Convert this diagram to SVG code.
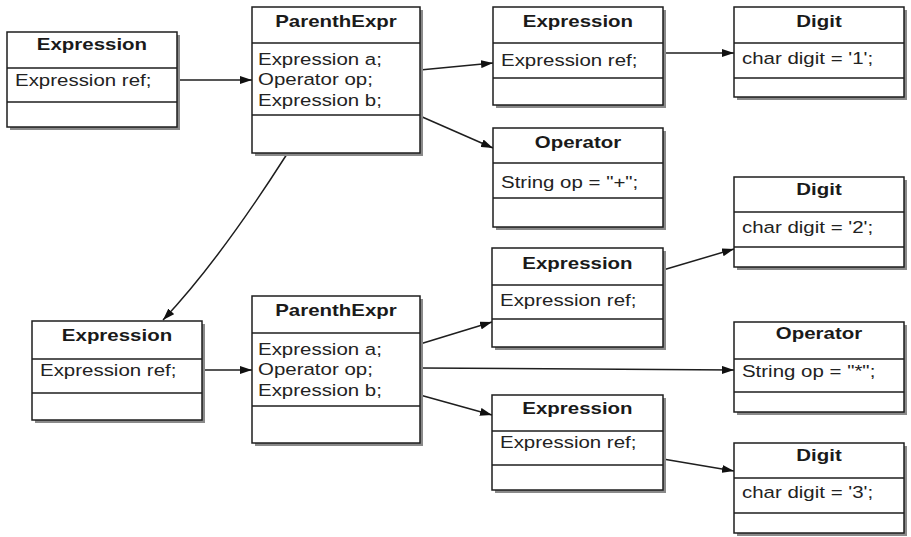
<svg xmlns="http://www.w3.org/2000/svg" width="911" height="537" viewBox="0 0 911 537">
  <style>
    .bg { fill: #ffffff; }
    .shadow { fill: #8a8a8a; }
    .box { fill: #ffffff; stroke: #1e1e1e; stroke-width: 1.5; }
    .div { stroke: #1e1e1e; stroke-width: 1.5; }
    .title { font-family: "Liberation Sans", Arial, Helvetica, sans-serif; font-weight: bold; font-size: 16.5px; fill: #1a1a1a; text-anchor: middle; transform-box: fill-box; transform-origin: 50% 50%; transform: scaleX(1.24); }
    .attr { font-family: "Liberation Sans", Arial, Helvetica, sans-serif; font-size: 16.5px; fill: #222222; transform-box: fill-box; transform-origin: 0 50%; transform: scaleX(1.24); }
    .edge { fill: none; stroke: #1e1e1e; stroke-width: 1.5; marker-end: url(#arrow); }
  </style>
  <defs>
    <marker id="arrow" markerUnits="userSpaceOnUse" markerWidth="12" markerHeight="8" refX="12" refY="4" orient="auto">
      <path d="M0,0 L12,4 L0,8 z" fill="#111111"/>
    </marker>
  </defs>

  <rect class="bg" x="0" y="0" width="911" height="537"/>

  <!-- connectors -->
  <g id="connectors">
    <path class="edge" d="M177,80 L252,80"/>
    <path class="edge" d="M420,70 L493,63"/>
    <path class="edge" d="M420,116 L493,148"/>
    <path class="edge" d="M663,53 L734,53"/>
    <path class="edge" d="M287,154 Q218,262 163,320"/>
    <path class="edge" d="M202,370 L252,370"/>
    <path class="edge" d="M420,344 L492,322"/>
    <path class="edge" d="M420,368 L734,370"/>
    <path class="edge" d="M420,395 L492,415"/>
    <path class="edge" d="M663,270 L734,249"/>
    <path class="edge" d="M663,459 L734,471"/>
  </g>

  <!-- top-left Expression -->
  <g id="expr-root">
    <rect class="shadow" x="10" y="35" width="170" height="95"/>
    <rect class="box" x="7" y="32" width="170" height="95"/>
    <line class="div" x1="7" y1="68" x2="177" y2="68"/>
    <line class="div" x1="7" y1="102" x2="177" y2="102"/>
    <text class="title" x="92" y="50">Expression</text>
    <text class="attr" x="15" y="86">Expression ref;</text>
  </g>

  <!-- outer ParenthExpr -->
  <g id="parenth-outer">
    <rect class="shadow" x="255" y="10" width="168" height="146"/>
    <rect class="box" x="252" y="7" width="168" height="146"/>
    <line class="div" x1="252" y1="43" x2="420" y2="43"/>
    <line class="div" x1="252" y1="115" x2="420" y2="115"/>
    <text class="title" x="336" y="27">ParenthExpr</text>
    <text class="attr" x="258" y="65">Expression a;</text>
    <text class="attr" x="258" y="85.5">Operator op;</text>
    <text class="attr" x="258" y="106">Expression b;</text>
  </g>

  <!-- Expression holding digit 1 -->
  <g id="expr-one">
    <rect class="shadow" x="496" y="10" width="170" height="98"/>
    <rect class="box" x="493" y="7" width="170" height="98"/>
    <line class="div" x1="493" y1="43" x2="663" y2="43"/>
    <line class="div" x1="493" y1="78" x2="663" y2="78"/>
    <text class="title" x="578" y="27">Expression</text>
    <text class="attr" x="501" y="66">Expression ref;</text>
  </g>

  <!-- Operator + -->
  <g id="op-plus">
    <rect class="shadow" x="496" y="131" width="170" height="99"/>
    <rect class="box" x="493" y="128" width="170" height="99"/>
    <line class="div" x1="493" y1="163" x2="663" y2="163"/>
    <line class="div" x1="493" y1="198" x2="663" y2="198"/>
    <text class="title" x="578" y="148">Operator</text>
    <text class="attr" x="501" y="188">String op = "+";</text>
  </g>

  <!-- Digit 1 -->
  <g id="digit-1">
    <rect class="shadow" x="737" y="10" width="170" height="90"/>
    <rect class="box" x="734" y="7" width="170" height="90"/>
    <line class="div" x1="734" y1="43" x2="904" y2="43"/>
    <line class="div" x1="734" y1="78" x2="904" y2="78"/>
    <text class="title" x="819" y="27">Digit</text>
    <text class="attr" x="742" y="64">char digit = '1';</text>
  </g>

  <!-- Digit 2 -->
  <g id="digit-2">
    <rect class="shadow" x="737" y="180" width="170" height="90"/>
    <rect class="box" x="734" y="177" width="170" height="90"/>
    <line class="div" x1="734" y1="212" x2="904" y2="212"/>
    <line class="div" x1="734" y1="247" x2="904" y2="247"/>
    <text class="title" x="819" y="195">Digit</text>
    <text class="attr" x="742" y="233">char digit = '2';</text>
  </g>

  <!-- lower-left Expression -->
  <g id="expr-inner">
    <rect class="shadow" x="35" y="324" width="170" height="99"/>
    <rect class="box" x="32" y="321" width="170" height="99"/>
    <line class="div" x1="32" y1="359" x2="202" y2="359"/>
    <line class="div" x1="32" y1="393" x2="202" y2="393"/>
    <text class="title" x="117" y="341">Expression</text>
    <text class="attr" x="40" y="376">Expression ref;</text>
  </g>

  <!-- inner ParenthExpr -->
  <g id="parenth-inner">
    <rect class="shadow" x="255" y="299" width="168" height="147"/>
    <rect class="box" x="252" y="296" width="168" height="147"/>
    <line class="div" x1="252" y1="333" x2="420" y2="333"/>
    <line class="div" x1="252" y1="406" x2="420" y2="406"/>
    <text class="title" x="336" y="316">ParenthExpr</text>
    <text class="attr" x="258" y="355">Expression a;</text>
    <text class="attr" x="258" y="375.5">Operator op;</text>
    <text class="attr" x="258" y="396">Expression b;</text>
  </g>

  <!-- Expression holding digit 2 -->
  <g id="expr-two">
    <rect class="shadow" x="495" y="251" width="171" height="99"/>
    <rect class="box" x="492" y="248" width="171" height="99"/>
    <line class="div" x1="492" y1="285" x2="663" y2="285"/>
    <line class="div" x1="492" y1="319" x2="663" y2="319"/>
    <text class="title" x="577.5" y="269">Expression</text>
    <text class="attr" x="500" y="306">Expression ref;</text>
  </g>

  <!-- Operator * -->
  <g id="op-times">
    <rect class="shadow" x="737" y="325" width="170" height="90"/>
    <rect class="box" x="734" y="322" width="170" height="90"/>
    <line class="div" x1="734" y1="359" x2="904" y2="359"/>
    <line class="div" x1="734" y1="392" x2="904" y2="392"/>
    <text class="title" x="819" y="339">Operator</text>
    <text class="attr" x="742" y="377">String op = "*";</text>
  </g>

  <!-- Expression holding digit 3 -->
  <g id="expr-three">
    <rect class="shadow" x="495" y="398" width="171" height="95"/>
    <rect class="box" x="492" y="395" width="171" height="95"/>
    <line class="div" x1="492" y1="431" x2="663" y2="431"/>
    <line class="div" x1="492" y1="465" x2="663" y2="465"/>
    <text class="title" x="577.5" y="414">Expression</text>
    <text class="attr" x="500" y="448">Expression ref;</text>
  </g>

  <!-- Digit 3 -->
  <g id="digit-3">
    <rect class="shadow" x="737" y="446" width="170" height="90"/>
    <rect class="box" x="734" y="443" width="170" height="90"/>
    <line class="div" x1="734" y1="478" x2="904" y2="478"/>
    <line class="div" x1="734" y1="513" x2="904" y2="513"/>
    <text class="title" x="819" y="461">Digit</text>
    <text class="attr" x="742" y="498">char digit = '3';</text>
  </g>
</svg>
